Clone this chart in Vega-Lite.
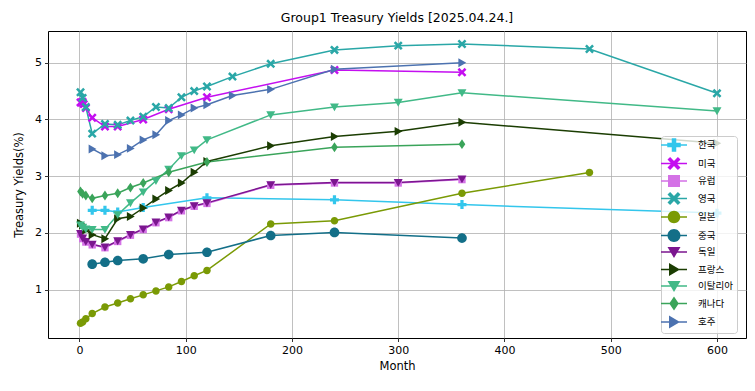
{
  "$schema": "https://vega.github.io/schema/vega-lite/v6.json",
  "width": 698,
  "height": 307,
  "autosize": {"type": "none"},
  "padding": {"left": 48, "top": 31, "right": 9, "bottom": 53},
  "background": "white",
  "title": {"text": "Group1 Treasury Yields [2025.04.24.]", "font": "DejaVu Sans", "fontSize": 12.5, "fontWeight": "normal", "color": "#000", "offset": 7},
  "config": {
    "view": {"stroke": "#000", "strokeWidth": 1},
    "axis": {
      "domain": false, "grid": true, "gridColor": "#b0b0b0", "gridWidth": 0.8,
      "tickColor": "#000", "tickSize": 3.5, "tickWidth": 0.8,
      "labelFont": "DejaVu Sans", "labelFontSize": 11, "labelColor": "#000", "labelPadding": 3,
      "titleFont": "DejaVu Sans", "titleFontSize": 11.5, "titleFontWeight": "normal", "titleColor": "#000"
    }
  },
  "data": {"values": [
    {"country": "한국", "month": 12, "yield": 2.40},
    {"country": "한국", "month": 24, "yield": 2.40},
    {"country": "한국", "month": 36, "yield": 2.37},
    {"country": "한국", "month": 60, "yield": 2.45},
    {"country": "한국", "month": 120, "yield": 2.62},
    {"country": "한국", "month": 240, "yield": 2.585},
    {"country": "한국", "month": 360, "yield": 2.50},
    {"country": "한국", "month": 600, "yield": 2.35},
    {"country": "미국", "month": 1, "yield": 4.30},
    {"country": "미국", "month": 2, "yield": 4.30},
    {"country": "미국", "month": 3, "yield": 4.31},
    {"country": "미국", "month": 4, "yield": 4.27},
    {"country": "미국", "month": 6, "yield": 4.20},
    {"country": "미국", "month": 12, "yield": 4.03},
    {"country": "미국", "month": 24, "yield": 3.875},
    {"country": "미국", "month": 36, "yield": 3.875},
    {"country": "미국", "month": 60, "yield": 4.00},
    {"country": "미국", "month": 84, "yield": 4.18},
    {"country": "미국", "month": 120, "yield": 4.39},
    {"country": "미국", "month": 240, "yield": 4.87},
    {"country": "미국", "month": 360, "yield": 4.83},
    {"country": "유럽", "month": 1, "yield": 1.98},
    {"country": "유럽", "month": 3, "yield": 1.90},
    {"country": "유럽", "month": 6, "yield": 1.84},
    {"country": "유럽", "month": 12, "yield": 1.79},
    {"country": "유럽", "month": 24, "yield": 1.74},
    {"country": "유럽", "month": 36, "yield": 1.85},
    {"country": "유럽", "month": 48, "yield": 1.96},
    {"country": "유럽", "month": 60, "yield": 2.06},
    {"country": "유럽", "month": 72, "yield": 2.18},
    {"country": "유럽", "month": 84, "yield": 2.27},
    {"country": "유럽", "month": 96, "yield": 2.39},
    {"country": "유럽", "month": 108, "yield": 2.47},
    {"country": "유럽", "month": 120, "yield": 2.52},
    {"country": "유럽", "month": 180, "yield": 2.84},
    {"country": "유럽", "month": 240, "yield": 2.88},
    {"country": "유럽", "month": 300, "yield": 2.88},
    {"country": "유럽", "month": 360, "yield": 2.94},
    {"country": "영국", "month": 1, "yield": 4.48},
    {"country": "영국", "month": 3, "yield": 4.38},
    {"country": "영국", "month": 6, "yield": 4.22},
    {"country": "영국", "month": 12, "yield": 3.75},
    {"country": "영국", "month": 24, "yield": 3.92},
    {"country": "영국", "month": 36, "yield": 3.905},
    {"country": "영국", "month": 48, "yield": 3.98},
    {"country": "영국", "month": 60, "yield": 4.05},
    {"country": "영국", "month": 72, "yield": 4.22},
    {"country": "영국", "month": 84, "yield": 4.20},
    {"country": "영국", "month": 96, "yield": 4.39},
    {"country": "영국", "month": 108, "yield": 4.50},
    {"country": "영국", "month": 120, "yield": 4.58},
    {"country": "영국", "month": 144, "yield": 4.755},
    {"country": "영국", "month": 180, "yield": 4.98},
    {"country": "영국", "month": 240, "yield": 5.225},
    {"country": "영국", "month": 300, "yield": 5.30},
    {"country": "영국", "month": 360, "yield": 5.33},
    {"country": "영국", "month": 480, "yield": 5.24},
    {"country": "영국", "month": 600, "yield": 4.46},
    {"country": "일본", "month": 1, "yield": 0.41},
    {"country": "일본", "month": 3, "yield": 0.43},
    {"country": "일본", "month": 6, "yield": 0.49},
    {"country": "일본", "month": 12, "yield": 0.58},
    {"country": "일본", "month": 24, "yield": 0.695},
    {"country": "일본", "month": 36, "yield": 0.766},
    {"country": "일본", "month": 48, "yield": 0.84},
    {"country": "일본", "month": 60, "yield": 0.91},
    {"country": "일본", "month": 72, "yield": 0.98},
    {"country": "일본", "month": 84, "yield": 1.05},
    {"country": "일본", "month": 96, "yield": 1.146},
    {"country": "일본", "month": 108, "yield": 1.246},
    {"country": "일본", "month": 120, "yield": 1.34},
    {"country": "일본", "month": 180, "yield": 2.16},
    {"country": "일본", "month": 240, "yield": 2.215},
    {"country": "일본", "month": 360, "yield": 2.70},
    {"country": "일본", "month": 480, "yield": 3.065},
    {"country": "중국", "month": 12, "yield": 1.45},
    {"country": "중국", "month": 24, "yield": 1.485},
    {"country": "중국", "month": 36, "yield": 1.515},
    {"country": "중국", "month": 60, "yield": 1.545},
    {"country": "중국", "month": 84, "yield": 1.62},
    {"country": "중국", "month": 120, "yield": 1.66},
    {"country": "중국", "month": 180, "yield": 1.956},
    {"country": "중국", "month": 240, "yield": 2.01},
    {"country": "중국", "month": 360, "yield": 1.91},
    {"country": "독일", "month": 1, "yield": 1.99},
    {"country": "독일", "month": 3, "yield": 1.91},
    {"country": "독일", "month": 6, "yield": 1.85},
    {"country": "독일", "month": 12, "yield": 1.80},
    {"country": "독일", "month": 24, "yield": 1.75},
    {"country": "독일", "month": 36, "yield": 1.86},
    {"country": "독일", "month": 48, "yield": 1.97},
    {"country": "독일", "month": 60, "yield": 2.07},
    {"country": "독일", "month": 72, "yield": 2.19},
    {"country": "독일", "month": 84, "yield": 2.28},
    {"country": "독일", "month": 96, "yield": 2.40},
    {"country": "독일", "month": 108, "yield": 2.48},
    {"country": "독일", "month": 120, "yield": 2.53},
    {"country": "독일", "month": 180, "yield": 2.85},
    {"country": "독일", "month": 240, "yield": 2.89},
    {"country": "독일", "month": 300, "yield": 2.89},
    {"country": "독일", "month": 360, "yield": 2.95},
    {"country": "프랑스", "month": 1, "yield": 2.17},
    {"country": "프랑스", "month": 3, "yield": 2.14},
    {"country": "프랑스", "month": 6, "yield": 2.05},
    {"country": "프랑스", "month": 12, "yield": 1.97},
    {"country": "프랑스", "month": 24, "yield": 1.90},
    {"country": "프랑스", "month": 36, "yield": 2.25},
    {"country": "프랑스", "month": 48, "yield": 2.29},
    {"country": "프랑스", "month": 60, "yield": 2.44},
    {"country": "프랑스", "month": 72, "yield": 2.60},
    {"country": "프랑스", "month": 84, "yield": 2.75},
    {"country": "프랑스", "month": 96, "yield": 2.88},
    {"country": "프랑스", "month": 108, "yield": 3.07},
    {"country": "프랑스", "month": 120, "yield": 3.26},
    {"country": "프랑스", "month": 180, "yield": 3.535},
    {"country": "프랑스", "month": 240, "yield": 3.70},
    {"country": "프랑스", "month": 300, "yield": 3.79},
    {"country": "프랑스", "month": 360, "yield": 3.95},
    {"country": "프랑스", "month": 600, "yield": 3.58},
    {"country": "이탈리아", "month": 1, "yield": 2.14},
    {"country": "이탈리아", "month": 3, "yield": 2.10},
    {"country": "이탈리아", "month": 6, "yield": 2.07},
    {"country": "이탈리아", "month": 12, "yield": 2.06},
    {"country": "이탈리아", "month": 24, "yield": 2.06},
    {"country": "이탈리아", "month": 36, "yield": 2.32},
    {"country": "이탈리아", "month": 48, "yield": 2.53},
    {"country": "이탈리아", "month": 60, "yield": 2.72},
    {"country": "이탈리아", "month": 72, "yield": 2.92},
    {"country": "이탈리아", "month": 84, "yield": 3.12},
    {"country": "이탈리아", "month": 96, "yield": 3.36},
    {"country": "이탈리아", "month": 108, "yield": 3.46},
    {"country": "이탈리아", "month": 120, "yield": 3.64},
    {"country": "이탈리아", "month": 180, "yield": 4.08},
    {"country": "이탈리아", "month": 240, "yield": 4.22},
    {"country": "이탈리아", "month": 300, "yield": 4.30},
    {"country": "이탈리아", "month": 360, "yield": 4.47},
    {"country": "이탈리아", "month": 600, "yield": 4.15},
    {"country": "캐나다", "month": 1, "yield": 2.73},
    {"country": "캐나다", "month": 3, "yield": 2.69},
    {"country": "캐나다", "month": 6, "yield": 2.66},
    {"country": "캐나다", "month": 12, "yield": 2.61},
    {"country": "캐나다", "month": 24, "yield": 2.66},
    {"country": "캐나다", "month": 36, "yield": 2.70},
    {"country": "캐나다", "month": 48, "yield": 2.80},
    {"country": "캐나다", "month": 60, "yield": 2.88},
    {"country": "캐나다", "month": 84, "yield": 3.07},
    {"country": "캐나다", "month": 120, "yield": 3.25},
    {"country": "캐나다", "month": 240, "yield": 3.51},
    {"country": "캐나다", "month": 360, "yield": 3.565},
    {"country": "호주", "month": 12, "yield": 3.48},
    {"country": "호주", "month": 24, "yield": 3.36},
    {"country": "호주", "month": 36, "yield": 3.38},
    {"country": "호주", "month": 48, "yield": 3.49},
    {"country": "호주", "month": 60, "yield": 3.64},
    {"country": "호주", "month": 72, "yield": 3.73},
    {"country": "호주", "month": 84, "yield": 3.98},
    {"country": "호주", "month": 96, "yield": 4.08},
    {"country": "호주", "month": 108, "yield": 4.20},
    {"country": "호주", "month": 120, "yield": 4.26},
    {"country": "호주", "month": 144, "yield": 4.42},
    {"country": "호주", "month": 180, "yield": 4.53},
    {"country": "호주", "month": 240, "yield": 4.885},
    {"country": "호주", "month": 360, "yield": 5.00}
  ]},
  "encoding": {
    "x": {"field": "month", "type": "quantitative", "title": "Month",
      "scale": {"domain": [-29.6, 627.3], "nice": false, "zero": false},
      "axis": {"values": [0, 100, 200, 300, 400, 500, 600], "titlePadding": 5}},
    "y": {"field": "yield", "type": "quantitative", "title": "Treasury Yields(%)",
      "scale": {"domain": [0.15, 5.558], "nice": false, "zero": false},
      "axis": {"values": [1, 2, 3, 4, 5], "titlePadding": 10}},
    "color": {"field": "country", "type": "nominal",
      "scale": {"domain": ["한국","미국","유럽","영국","일본","중국","독일","프랑스","이탈리아","캐나다","호주"],
        "range": ["#33c6ec","#c40ff0","#d472e6","#2aa7a7","#7a9a05","#136f88","#7b168f","#1b3d02","#41b987","#3aa45a","#4c72b0"]},
      "legend": {"title": null, "orient": "none", "legendX": 613, "legendY": 105,
        "symbolSize": 100, "symbolOffset": 4, "labelOffset": 19, "symbolStrokeWidth": 0, "symbolOpacity": 1,
        "labelFont": "Noto Sans CJK KR", "labelFontSize": 9.5, "labelColor": "#000", "rowPadding": 4.5, "padding": 4,
        "fillColor": "rgba(255,255,255,0.8)", "strokeColor": "#cccccc", "cornerRadius": 3,
        "encode": {"symbols": {"update": {"size": {"value": 100}, "shape": {"signal": "['M-2.6,-0.17H2.6V0.17H-2.6Z M-0.45,-1.35H0.45V-0.45H1.35V0.45H0.45V1.35H-0.45V0.45H-1.35V-0.45H-0.45Z','M-2.6,-0.17H2.6V0.17H-2.6Z M-1.3,-0.78L-0.78,-1.3L0,-0.52L0.78,-1.3L1.3,-0.78L0.52,0L1.3,0.78L0.78,1.3L0,0.52L-0.78,1.3L-1.3,0.78L-0.52,0Z','M-2.6,-0.17H2.6V0.17H-2.6Z M-1.2,-1.2H1.2V1.2H-1.2Z','M-2.6,-0.17H2.6V0.17H-2.6Z M-1.3,-0.78L-0.78,-1.3L0,-0.52L0.78,-1.3L1.3,-0.78L0.52,0L1.3,0.78L0.78,1.3L0,0.52L-0.78,1.3L-1.3,0.78L-0.52,0Z','M-2.6,-0.17H2.6V0.17H-2.6Z M1.25,0A1.25,1.25,0,1,1,-1.25,0A1.25,1.25,0,1,1,1.25,0Z','M-2.6,-0.17H2.6V0.17H-2.6Z M1.3,0A1.3,1.3,0,1,1,-1.3,0A1.3,1.3,0,1,1,1.3,0Z','M-2.6,-0.17H2.6V0.17H-2.6Z M-1.3,-1H1.3L0,1.2Z','M-2.6,-0.17H2.6V0.17H-2.6Z M-1,-1.3L1.2,0L-1,1.3Z','M-2.6,-0.17H2.6V0.17H-2.6Z M-1.3,-1H1.3L0,1.2Z','M-2.6,-0.17H2.6V0.17H-2.6Z M0,-1.4L0.95,0L0,1.4L-0.95,0Z','M-2.6,-0.17H2.6V0.17H-2.6Z M-1,-1.3L1.2,0L-1,1.3Z'][indexof(['한국','미국','유럽','영국','일본','중국','독일','프랑스','이탈리아','캐나다','호주'], datum.value)]"}}}}
      }
    }
  },
  "layer": [
    {
      "mark": {"type": "line", "strokeWidth": 1.5}
    },
    {
      "mark": {"type": "point", "filled": true, "opacity": 1, "strokeWidth": 0, "size": 80},
      "encoding": {
        "shape": {"field": "country", "type": "nominal", "legend": null,
          "scale": {
            "range": [
              "M-1,-0.8H1L0,0.95Z",
              "M-1,-0.6L-0.6,-1L0,-0.4L0.6,-1L1,-0.6L0.4,0L1,0.6L0.6,1L0,0.4L-0.6,1L-1,0.6L-0.4,0Z",
              "M-1,-0.6L-0.6,-1L0,-0.4L0.6,-1L1,-0.6L0.4,0L1,0.6L0.6,1L0,0.4L-0.6,1L-1,0.6L-0.4,0Z",
              "M-0.82,-0.82H0.82V0.82H-0.82Z",
              "M-1,-0.8H1L0,0.95Z",
              "M0.84,0A0.84,0.84,0,1,1,-0.84,0A0.84,0.84,0,1,1,0.84,0Z",
              "M1.08,0A1.08,1.08,0,1,1,-1.08,0A1.08,1.08,0,1,1,1.08,0Z",
              "M0,-1.1L0.75,0L0,1.1L-0.75,0Z",
              "M-0.8,-1L0.95,0L-0.8,1Z",
              "M-0.36,-1H0.36V-0.36H1V0.36H0.36V1H-0.36V0.36H-1V-0.36H-0.36Z",
              "M-0.8,-1L0.95,0L-0.8,1Z"
            ]}
        }
      }
    }
  ]
}
